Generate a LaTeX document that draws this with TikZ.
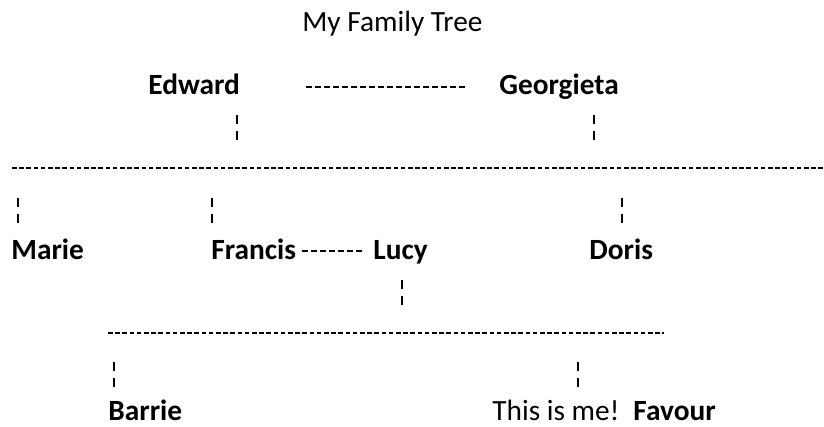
\documentclass[tikz,border=0pt]{standalone}
\usepackage{fontspec}
\setmainfont{Carlito}
\begin{document}
\begin{tikzpicture}[x=0.5pt,y=-0.5pt,
  txt/.style={anchor=base west,inner sep=0pt,text depth=0pt,font=\fontsize{14.67}{17}\selectfont},
  person/.style={anchor=base west,inner sep=0pt,text depth=0pt,font=\fontsize{14.67}{17}\selectfont\bfseries},
  hyph/.style={line width=1pt,dash pattern=on 2.9pt off 1.6pt},
  longhyph/.style={line width=1pt,dash pattern=on 2.3pt off 1.3pt},
  bar/.style={line width=1.1pt,dash pattern=on 4.5pt off 3.5pt}]
\useasboundingbox (0,0) rectangle (824,427);
% texts
\node[txt] (title) at (302,32) {My Family Tree};
\node[person] (edward) at (148,95) {Edward};
\node[person] (georgieta) at (499,95) {Georgieta};
\node[person] (marie) at (11,260) {Marie};
\node[person] (francis) at (211,260) {Francis};
\node[person] (lucy) at (373,260) {Lucy};
\node[person] (doris) at (589,260) {Doris};
\node[person] (barrie) at (108,420) {Barrie};
\node[txt] (me) at (492,420) {This is me!};
\node[person] (favour) at (633,420) {Favour};
% line ends
\coordinate (eg1) at (306,87);
\coordinate (eg2) at (465,87);
\coordinate (l1a) at (12,168);
\coordinate (l1b) at (826,168);
\coordinate (fl1) at (302,251);
\coordinate (fl2) at (363,251);
\coordinate (l2a) at (108,333);
\coordinate (l2b) at (664,333);
\coordinate (b1a) at (237,115); \coordinate (b1b) at (237,142);
\coordinate (b2a) at (594,115); \coordinate (b2b) at (594,142);
\coordinate (b3a) at (18,198);  \coordinate (b3b) at (18,224);
\coordinate (b4a) at (212,198); \coordinate (b4b) at (212,224);
\coordinate (b5a) at (622,198); \coordinate (b5b) at (622,224);
\coordinate (b6a) at (402,280); \coordinate (b6b) at (402,306);
\coordinate (b7a) at (114,362); \coordinate (b7b) at (114,388);
\coordinate (b8a) at (578,362); \coordinate (b8b) at (578,388);
% connectors
\draw[hyph] (eg1) -- (eg2);
\draw[longhyph] (l1a) -- (l1b);
\draw[hyph] (fl1) -- (fl2);
\draw[longhyph] (l2a) -- (l2b);
\foreach \b in {b1,b2,b3,b4,b5,b6,b7,b8}
  \draw[bar] (\b a) -- (\b b);
\end{tikzpicture}
\end{document}
